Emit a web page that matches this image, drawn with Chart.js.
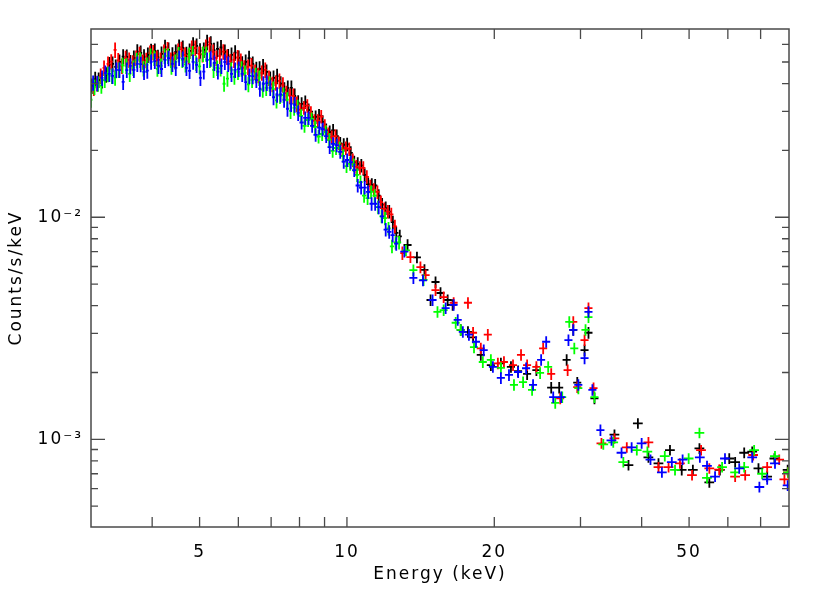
<!DOCTYPE html>
<html>
<head>
<meta charset="utf-8">
<title>Counts spectrum</title>
<script src="https://cdn.jsdelivr.net/npm/chart.js@4.4.1/dist/chart.umd.min.js"></script>
<style>
  html, body { margin: 0; padding: 0; background: #fff; }
  #wrap { width: 830px; height: 593px; }
</style>
</head>
<body>
<div id="wrap"><canvas id="spec" width="830" height="593"></canvas></div>
<script>
// energy in keV, rate in counts/s/keV, one pair of arrays per spectrum
const blackEnergy = [3.01, 3.11, 3.22, 3.32, 3.43, 3.55, 3.67, 3.79, 3.92, 4.05, 4.18, 4.32, 4.47, 4.62, 4.77, 4.93, 5.10, 5.27, 5.44, 5.63,
  5.81, 6.01, 6.21, 6.42, 6.63, 6.85, 7.08, 7.32, 7.57, 7.82, 8.08, 8.35, 8.63, 8.92, 9.22, 9.53, 9.85, 10.18, 10.52, 10.87,
  11.24, 11.61, 12.00, 12.41, 12.82, 13.3, 13.9, 14.4, 14.82, 15.17, 15.53, 16.06, 16.44, 17.08, 17.67, 18.10, 18.77, 19.68,
  20.63, 21.63, 22.37, 23.34, 24.38, 26.14, 27.14, 28.11, 29.0, 29.55, 30.58, 31.15, 32.04, 35.2, 37.6, 39.3, 41.3, 43.3, 45.7, 48.3,
  50.9, 52.5, 55.0, 57.8, 60.4, 62.1, 64.8, 67.3, 69.3, 72.2, 74.7, 79.5];
const blackCounts = [0.0390, 0.0415, 0.0438, 0.0490, 0.0501, 0.0527, 0.0522, 0.0550, 0.0538, 0.0561, 0.0544, 0.0567, 0.0555, 0.0579, 0.0561, 0.0591, 0.0567, 0.0604, 0.0573, 0.0555,
  0.0538, 0.0522, 0.0501, 0.0490, 0.0466, 0.0451, 0.0424, 0.0399, 0.0382, 0.0352, 0.0324, 0.0304, 0.0283, 0.0269, 0.0242, 0.0232, 0.0212, 0.0195, 0.0174, 0.0155,
  0.0140, 0.0125, 0.0110, 0.0095, 0.0082, 0.0075, 0.0066, 0.0058, 0.00424, 0.00511, 0.00456, 0.00424, 0.00403, 0.00311, 0.00305, 0.00288, 0.00240, 0.00216,
  0.00220, 0.00212, 0.00203, 0.00197, 0.00205, 0.00171, 0.00171, 0.00228, 0.00311, 0.00180, 0.00252, 0.00302, 0.00153, 0.00105, 0.000766, 0.00118, 0.00083, 0.00078, 0.000895, 0.000728,
  0.000728, 0.00091, 0.00064, 0.000728, 0.00082, 0.00079, 0.00087, 0.00088, 0.00074, 0.00068, 0.00082, 0.000728];
// finer bins in the bright part, 3-13 keV
const blackFineEnergy = [3.06, 3.16, 3.27, 3.37, 3.49, 3.61, 3.73, 3.85, 3.98, 4.11, 4.25, 4.40, 4.54, 4.70, 4.85, 5.01, 5.18, 5.35, 5.53, 5.72,
  5.91, 6.11, 6.31, 6.53, 6.74, 6.97, 7.20, 7.45, 7.70, 7.95, 8.22, 8.49, 8.77, 9.07, 9.37, 9.69, 10.01, 10.35, 10.70, 11.05, 11.42, 11.80, 12.20, 12.61];
const blackFineCounts = [0.0418, 0.0413, 0.0487, 0.0475, 0.0529, 0.0498, 0.0557, 0.0528, 0.0560, 0.0525, 0.0583, 0.0539, 0.0584, 0.0542, 0.0599, 0.0562, 0.0614, 0.0565, 0.0581, 0.0530,
  0.0551, 0.0491, 0.0520, 0.0464, 0.0477, 0.0420, 0.0432, 0.0375, 0.0382, 0.0328, 0.0330, 0.0282, 0.0287, 0.0247, 0.0246, 0.0215, 0.0213, 0.0177, 0.0171, 0.0141, 0.0139, 0.0114, 0.0106, 0.0085];

const redEnergy = [3.04, 3.14, 3.25, 3.36, 3.47, 3.59, 3.71, 3.83, 3.96, 4.09, 4.23, 4.37, 4.52, 4.67, 4.82, 4.99, 5.15, 5.33, 5.50, 5.69,
  5.88, 6.07, 6.28, 6.49, 6.70, 6.93, 7.16, 7.40, 7.65, 7.90, 8.17, 8.44, 8.72, 9.01, 9.31, 9.63, 9.95, 10.28, 10.63, 10.98,
  11.35, 11.73, 12.12, 12.53, 12.98, 13.48, 14.13, 14.48, 15.17, 15.76, 16.52, 17.67, 18.10, 18.77, 19.4, 20.34, 20.93, 21.84, 22.68, 23.34,
  24.38, 25.17, 26.14, 27.27, 28.24, 29.0, 29.55, 30.58, 31.15, 31.9, 33.11, 35.2, 37.3, 41.3, 43.3, 45.4, 47.9, 50.7, 52.9, 55.0,
  57.6, 62.1, 65.1, 67.6, 72.2, 76.4, 78.3, 79.6];
const redCounts = [0.0382, 0.0433, 0.0490, 0.0567, 0.0480, 0.0511, 0.0522, 0.0501, 0.0550, 0.0522, 0.0555, 0.0511, 0.0561, 0.0538, 0.0579, 0.0544, 0.0585, 0.0555, 0.0533, 0.0527,
  0.0511, 0.0506, 0.0475, 0.0451, 0.0447, 0.0424, 0.0403, 0.0395, 0.0352, 0.0324, 0.0311, 0.0295, 0.0272, 0.0258, 0.0230, 0.0216, 0.0205, 0.0181, 0.0167, 0.0152,
  0.0133, 0.0117, 0.0106, 0.0091, 0.00690, 0.00662, 0.00596, 0.00549, 0.00470, 0.00437, 0.00412, 0.00412, 0.00302, 0.00257, 0.00296, 0.00220, 0.00223, 0.00216, 0.00240, 0.00216,
  0.00212, 0.00257, 0.00197, 0.00153, 0.00205, 0.00338, 0.00172, 0.00280, 0.00390, 0.00170, 0.00096, 0.00101, 0.00092, 0.00097, 0.00075, 0.00075, 0.00078, 0.00069, 0.000895, 0.00074,
  0.00073, 0.00068, 0.00069, 0.00085, 0.00075, 0.00081, 0.00066, 0.00071];
const redFineEnergy = [3.09, 3.19, 3.30, 3.41, 3.53, 3.65, 3.77, 3.89, 4.02, 4.16, 4.30, 4.44, 4.59, 4.75, 4.90, 5.07, 5.24, 5.41, 5.59, 5.78,
  5.98, 6.17, 6.38, 6.59, 6.81, 7.04, 7.28, 7.52, 7.77, 8.03, 8.30, 8.58, 8.86, 9.16, 9.47, 9.79, 10.11, 10.45, 10.80, 11.16, 11.54, 11.92, 12.32];
const redFineCounts = [0.0399, 0.0470, 0.0502, 0.0508, 0.0520, 0.0496, 0.0542, 0.0509, 0.0552, 0.0511, 0.0570, 0.0514, 0.0571, 0.0530, 0.0578, 0.0541, 0.0599, 0.0522, 0.0557, 0.0503,
  0.0524, 0.0471, 0.0482, 0.0436, 0.0461, 0.0397, 0.0411, 0.0362, 0.0352, 0.0305, 0.0318, 0.0272, 0.0284, 0.0237, 0.0232, 0.0202, 0.0203, 0.0169, 0.0167, 0.0138, 0.0130, 0.0109, 0.0103];

const greenEnergy = [3.00, 3.10, 3.20, 3.31, 3.42, 3.54, 3.66, 3.78, 3.90, 4.04, 4.17, 4.31, 4.46, 4.61, 4.76, 4.92, 5.08, 5.25, 5.43, 5.61,
  5.80, 5.99, 6.19, 6.40, 6.62, 6.84, 7.07, 7.30, 7.55, 7.80, 8.06, 8.33, 8.61, 8.90, 9.20, 9.50, 9.82, 10.15, 10.49, 10.84,
  11.20, 11.58, 11.96, 12.36, 12.78, 13.2, 13.67, 14.34, 15.31, 15.76, 16.68, 17.08, 18.18, 18.95, 19.68, 20.63, 21.94, 22.90, 23.89, 24.81,
  25.77, 26.64, 27.53, 28.46, 29.14, 29.7, 30.72, 31.15, 32.04, 33.4, 35.0, 36.7, 39.1, 41.1, 44.6, 46.8, 49.9, 52.5, 54.4, 58.4,
  62.1, 64.8, 67.9, 70.5, 74.9, 79.7];
const greenCounts = [0.0338, 0.0399, 0.0415, 0.0433, 0.0461, 0.0480, 0.0470, 0.0511, 0.0485, 0.0522, 0.0480, 0.0533, 0.0501, 0.0511, 0.0538, 0.0495, 0.0544, 0.0511, 0.0470, 0.0399,
  0.0461, 0.0451, 0.0447, 0.0415, 0.0424, 0.0382, 0.0378, 0.0352, 0.0338, 0.0311, 0.0286, 0.0274, 0.0255, 0.0237, 0.0223, 0.0205, 0.0189, 0.0174, 0.0155, 0.0125,
  0.0130, 0.0111, 0.0099, 0.0074, 0.0077, 0.0071, 0.00578, 0.00522, 0.00375, 0.00382, 0.00335, 0.00311, 0.00260, 0.00223, 0.00228, 0.00210, 0.00176, 0.00181, 0.00167, 0.00199,
  0.00212, 0.00146, 0.00155, 0.00338, 0.00257, 0.00170, 0.00311, 0.00355, 0.00155, 0.00095, 0.00097, 0.00079, 0.000895, 0.00088, 0.00084, 0.000728, 0.00082, 0.00107, 0.00067, 0.00075,
  0.00071, 0.00075, 0.000895, 0.00070, 0.00084, 0.00071];
const greenFineEnergy = [3.05, 3.15, 3.25, 3.36, 3.48, 3.60, 3.72, 3.84, 3.97, 4.10, 4.24, 4.38, 4.53, 4.68, 4.84, 5.00, 5.16, 5.34, 5.52, 5.70,
  5.89, 6.09, 6.29, 6.51, 6.73, 6.95, 7.18, 7.42, 7.67, 7.93, 8.19, 8.47, 8.75, 9.05, 9.35, 9.66, 9.98, 10.32, 10.66, 11.02, 11.39, 11.77, 12.16, 12.57];
const greenFineCounts = [0.0386, 0.0391, 0.0441, 0.0425, 0.0484, 0.0442, 0.0510, 0.0468, 0.0533, 0.0466, 0.0532, 0.0476, 0.0541, 0.0488, 0.0547, 0.0478, 0.0543, 0.0461, 0.0468, 0.0421,
  0.0429, 0.0467, 0.0397, 0.0436, 0.0375, 0.0399, 0.0336, 0.0355, 0.0301, 0.0313, 0.0258, 0.0277, 0.0231, 0.0242, 0.0199, 0.0205, 0.0170, 0.0172, 0.0144, 0.0122, 0.0125, 0.0101, 0.0089, 0.0077];

const blueEnergy = [3.03, 3.16, 3.27, 3.38, 3.49, 3.61, 3.73, 3.85, 3.98, 4.12, 4.25, 4.40, 4.54, 4.70, 4.85, 5.02, 5.18, 5.36, 5.54, 5.72,
  5.91, 6.11, 6.32, 6.53, 6.75, 6.97, 7.20, 7.44, 7.69, 7.95, 8.22, 8.49, 8.78, 9.07, 9.37, 9.69, 10.01, 10.35, 10.69, 11.05,
  11.42, 11.80, 12.20, 12.61, 13.1, 13.67, 14.3, 14.96, 15.91, 16.52, 16.84, 17.25, 17.75, 18.35, 19.03, 19.87, 20.63, 21.43, 22.37, 23.23,
  24.0, 24.93, 25.53, 26.39, 27.40, 28.35, 29.0, 29.7, 30.58, 31.15, 31.73, 32.95, 34.71, 36.39, 38.16, 40.0, 41.7, 44.0, 46.1, 48.5,
  52.6, 54.4, 56.5, 59.2, 63.3, 67.3, 69.6, 72.2, 74.9, 79.5];
const blueCounts = [0.0403, 0.0424, 0.0442, 0.0461, 0.0407, 0.0480, 0.0490, 0.0451, 0.0501, 0.0480, 0.0511, 0.0490, 0.0522, 0.0470, 0.0501, 0.0424, 0.0511, 0.0495, 0.0480, 0.0490,
  0.0461, 0.0442, 0.0433, 0.0415, 0.0399, 0.0382, 0.0356, 0.0338, 0.0324, 0.0295, 0.0280, 0.0258, 0.0253, 0.0232, 0.0214, 0.0197, 0.0181, 0.0163, 0.0136, 0.0130,
  0.0115, 0.0101, 0.0086, 0.0076, 0.0070, 0.00533, 0.0052, 0.00424, 0.00390, 0.00403, 0.00345, 0.00305, 0.00296, 0.00275, 0.00252, 0.00212, 0.00189, 0.00195, 0.00201, 0.00209,
  0.00176, 0.00228, 0.00275, 0.00155, 0.00155, 0.00280, 0.00311, 0.00176, 0.00232, 0.00375, 0.00167, 0.00110, 0.00099, 0.00087, 0.00092, 0.00096, 0.00081, 0.00071, 0.00079, 0.00081,
  0.00083, 0.00076, 0.00068, 0.00082, 0.00074, 0.00083, 0.00061, 0.00066, 0.00078, 0.00062];
const blueFineEnergy = [3.09, 3.21, 3.32, 3.43, 3.55, 3.67, 3.79, 3.91, 4.05, 4.18, 4.32, 4.47, 4.62, 4.77, 4.93, 5.10, 5.27, 5.45, 5.63, 5.81,
  6.01, 6.21, 6.42, 6.64, 6.86, 7.08, 7.32, 7.56, 7.82, 8.08, 8.35, 8.63, 8.92, 9.22, 9.53, 9.85, 10.18, 10.52, 10.87, 11.23, 11.61, 12.00, 12.40];
const blueFineCounts = [0.0401, 0.0446, 0.0433, 0.0460, 0.0460, 0.0461, 0.0489, 0.0457, 0.0505, 0.0465, 0.0520, 0.0470, 0.0516, 0.0456, 0.0485, 0.0453, 0.0518, 0.0453, 0.0500, 0.0442,
  0.0465, 0.0406, 0.0432, 0.0379, 0.0402, 0.0347, 0.0357, 0.0308, 0.0321, 0.0267, 0.0280, 0.0235, 0.0249, 0.0207, 0.0211, 0.0178, 0.0177, 0.0139, 0.0136, 0.0115, 0.0111, 0.0088, 0.0083];

// bin half widths and 1-sigma errors, by energy band (upper edge in keV)
const bandEdges = [8, 13, 33, 80];
const binHalfFrac = [0.007, 0.010, 0.019, 0.023];
const relErr = [0.08, 0.07, 0.06, 0.055];

const xTicks = [4, 5, 6, 7, 8, 9, 10, 20, 30, 40, 50, 60, 70];
const xTickLabels = [5, 10, 20, 50];
const yTicks = [0.0005, 0.0006, 0.0007, 0.0008, 0.0009, 0.001, 0.002, 0.003, 0.004, 0.005, 0.006, 0.007, 0.008, 0.009,
  0.01, 0.02, 0.03, 0.04, 0.05, 0.06];
const yMajor = [0.001, 0.01];
const yMajorLabels = ['10⁻³', '10⁻²'];

function band(e) {
  let i = 0;
  while (i < bandEdges.length - 1 && e > bandEdges[i]) i++;
  return i;
}

function points(energy, counts) {
  return energy.map((e, i) => {
    const b = band(e);
    return {
      x: e, y: counts[i],
      xMin: e * (1 - binHalfFrac[b]), xMax: e * (1 + binHalfFrac[b]),
      yMin: counts[i] * (1 - relErr[b]), yMax: counts[i] * (1 + relErr[b])
    };
  });
}

// crosses: bin width across, error up and down
const errorBars = {
  id: 'errorBars',
  afterDatasetsDraw(chart) {
    const { ctx, chartArea: a, scales: { x, y } } = chart;
    ctx.save();
    ctx.beginPath();
    ctx.rect(a.left, a.top, a.right - a.left, a.bottom - a.top);
    ctx.clip();
    ctx.lineWidth = 1.8;
    chart.data.datasets.forEach(ds => {
      ctx.strokeStyle = ds.borderColor;
      ctx.beginPath();
      ds.data.forEach(p => {
        const px = x.getPixelForValue(p.x);
        const py = y.getPixelForValue(p.y);
        ctx.moveTo(x.getPixelForValue(p.xMin), py);
        ctx.lineTo(x.getPixelForValue(p.xMax), py);
        ctx.moveTo(px, y.getPixelForValue(p.yMax));
        ctx.lineTo(px, y.getPixelForValue(p.yMin));
      });
      ctx.stroke();
    });
    ctx.restore();
  }
};

// box with inward ticks on all four sides
const frameTicks = {
  id: 'frameTicks',
  afterDraw(chart) {
    const { ctx, chartArea: a, scales: { x, y } } = chart;
    ctx.save();
    ctx.strokeStyle = '#4a4a4a';
    ctx.lineWidth = 1.3;
    ctx.beginPath();
    xTicks.forEach(v => {
      const px = x.getPixelForValue(v);
      ctx.moveTo(px, a.bottom); ctx.lineTo(px, a.bottom - 10);
      ctx.moveTo(px, a.top); ctx.lineTo(px, a.top + 10);
    });
    yTicks.forEach(v => {
      const py = y.getPixelForValue(v);
      const len = yMajor.includes(v) ? 14 : 7;
      ctx.moveTo(a.left, py); ctx.lineTo(a.left + len, py);
      ctx.moveTo(a.right, py); ctx.lineTo(a.right - len, py);
    });
    ctx.stroke();
    ctx.lineWidth = 1.5;
    ctx.strokeRect(a.left, a.top, a.right - a.left, a.bottom - a.top);
    ctx.restore();
  }
};

// the reference lettering is wide, space it out for axis text only
const wideText = {
  id: 'wideText',
  beforeDraw(chart) { chart.ctx.letterSpacing = '2px'; },
  beforeDatasetsDraw(chart) { chart.ctx.letterSpacing = '0px'; }
};

const textFont = { family: 'DejaVu Sans', size: 17 };

new Chart(document.getElementById('spec'), {
  type: 'scatter',
  data: {
    datasets: [
      { label: 'black', data: points(blackEnergy.concat(blackFineEnergy), blackCounts.concat(blackFineCounts)), borderColor: '#000000' },
      { label: 'red', data: points(redEnergy.concat(redFineEnergy), redCounts.concat(redFineCounts)), borderColor: '#ff0000' },
      { label: 'green', data: points(greenEnergy.concat(greenFineEnergy), greenCounts.concat(greenFineCounts)), borderColor: '#00ff00' },
      { label: 'blue', data: points(blueEnergy.concat(blueFineEnergy), blueCounts.concat(blueFineCounts)), borderColor: '#0000ff' }
    ]
  },
  options: {
    responsive: false,
    animation: false,
    devicePixelRatio: 1,
    layout: { padding: { top: 29, right: 41, left: 0, bottom: 0 } },
    elements: { point: { radius: 0, hoverRadius: 0 } },
    plugins: {
      legend: { display: false },
      tooltip: { enabled: false }
    },
    scales: {
      x: {
        type: 'logarithmic',
        min: 3,
        max: 80,
        bounds: 'data',
        afterBuildTicks: s => { s.ticks = xTicks.map(v => ({ value: v })); },
        afterFit: s => { s.height = 66; },
        grid: { display: false, drawTicks: false },
        border: { display: false },
        ticks: {
          autoSkip: false,
          maxRotation: 0,
          padding: 15,
          color: '#000',
          font: textFont,
          callback: v => xTickLabels.includes(v) ? String(v) : ''
        },
        title: { display: true, text: 'Energy (keV)', color: '#000', font: textFont, padding: { top: 0, bottom: 8 } }
      },
      y: {
        type: 'logarithmic',
        min: 0.000403,
        max: 0.0704,
        bounds: 'data',
        afterBuildTicks: s => { s.ticks = yTicks.map(v => ({ value: v })); },
        afterFit: s => { s.width = 91; },
        grid: { display: false, drawTicks: false },
        border: { display: false },
        ticks: {
          autoSkip: false,
          padding: 8,
          color: '#000',
          font: textFont,
          callback: v => {
            const i = yMajor.indexOf(v);
            return i >= 0 ? yMajorLabels[i] : '';
          }
        },
        title: { display: true, text: 'Counts/s/keV', color: '#000', font: textFont, padding: { top: 6, bottom: 0 } }
      }
    }
  },
  plugins: [wideText, errorBars, frameTicks]
});
</script>
</body>
</html>
